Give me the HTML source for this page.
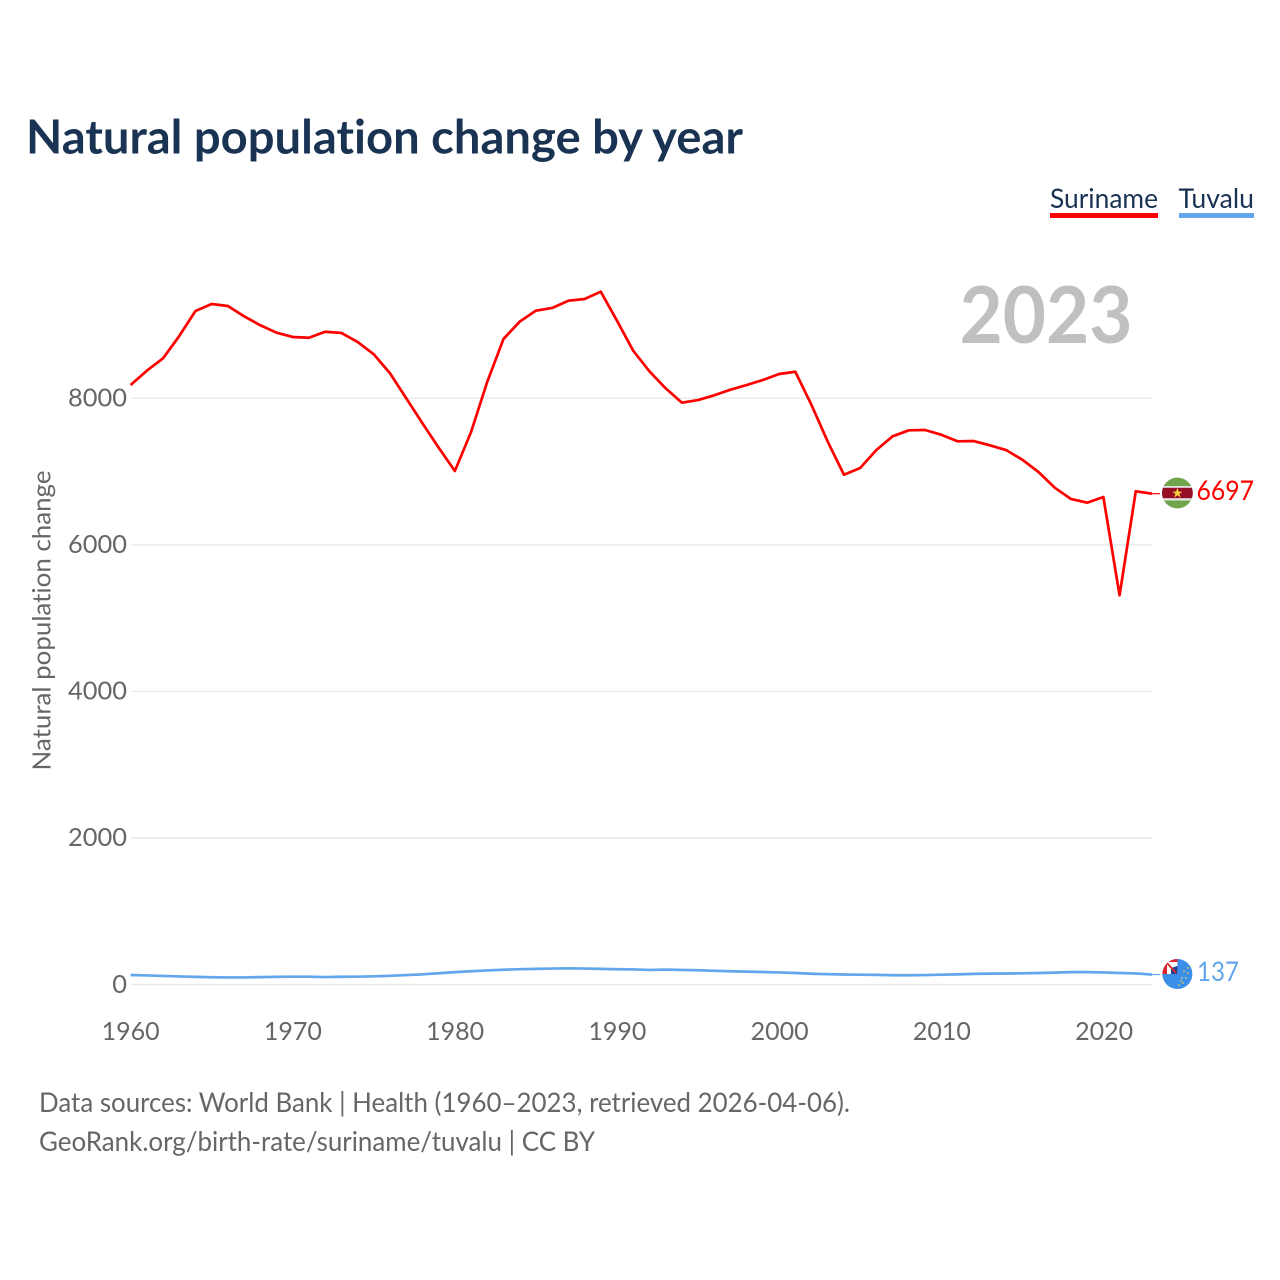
<!DOCTYPE html>
<html lang="en">
<head>
<meta charset="utf-8">
<title>Natural population change by year</title>
<style>
html,body{margin:0;padding:0;background:#fff;}
svg{display:block;}
text{font-family:"Lato","Carlito","Liberation Sans",sans-serif;font-variant-ligatures:none;}
</style>
</head>
<body>
<svg id="chart" xmlns="http://www.w3.org/2000/svg" width="1280" height="1280" viewBox="0 0 1280 1280">
  <rect x="0" y="0" width="1280" height="1280" fill="#ffffff"/>
  <text x="26" y="153.5" font-size="47" font-weight="700" fill="#1a3353" textLength="717" lengthAdjust="spacingAndGlyphs">Natural population change by year</text>

  <g>
    <text x="1050" y="208" font-size="27.5" fill="#1a3353" textLength="108" lengthAdjust="spacingAndGlyphs">Suriname</text>
    <rect x="1050" y="213" width="108" height="5" fill="#ff0000"/>
  </g>
  <g>
    <text x="1178.5" y="208" font-size="27.5" fill="#1a3353" textLength="75.5" lengthAdjust="spacingAndGlyphs">Tuvalu</text>
    <rect x="1179" y="213" width="75" height="5" fill="#63a6ec"/>
  </g>

  <text x="959.5" y="343" font-size="79" font-weight="700" fill="#c0c0c0" textLength="173" lengthAdjust="spacingAndGlyphs">2023</text>

  <g id="grid"></g>
  <g id="yticks"></g>
  <g id="xticks"></g>
  <text transform="translate(50.5 770.5) rotate(-90)" x="0" y="0" font-size="25.5" fill="#666666" textLength="300" lengthAdjust="spacingAndGlyphs">Natural population change</text>
  <g id="series"></g>

  <g id="flag-suriname">
    <clipPath id="clip-sr"><circle cx="1177.4" cy="493" r="15.4"/></clipPath>
    <g clip-path="url(#clip-sr)">
      <rect x="1162" y="477" width="31" height="32" fill="#72a64e"/>
      <rect x="1162" y="486" width="31" height="14.5" fill="#e4e4e4"/>
      <rect x="1162" y="487.8" width="31" height="10.4" fill="#970f25"/>
    </g>
    <polygon points="1177.4,487.8 1178.7,491.6 1182.5,491.6 1179.4,493.9 1180.6,497.6 1177.4,495.3 1174.2,497.6 1175.4,493.9 1172.3,491.6 1176.1,491.6" fill="#f6d23f"/>
  </g>
  <g id="flag-tuvalu">
    <clipPath id="clip-tv"><circle cx="1177.4" cy="974" r="15"/></clipPath>
    <g clip-path="url(#clip-tv)">
      <rect x="1162" y="959" width="31" height="31" fill="#3a8fe9"/>
      <rect x="1162" y="959" width="15.4" height="15" fill="#e0242c"/>
      <polygon points="1167,962 1177.4,962 1177.4,974 1167,974" fill="#ffffff"/>
      <polygon points="1171,968 1177.4,966 1177.4,974 1171,974" fill="#23408f"/>
      <line x1="1167" y1="963" x2="1176" y2="973" stroke="#e0242c" stroke-width="1.8"/>
      <g fill="#e6c85a">
        <circle cx="1184" cy="971" r="0.9"/><circle cx="1188" cy="973" r="0.9"/>
        <circle cx="1188" cy="968" r="0.9"/><circle cx="1186" cy="978" r="0.9"/>
        <circle cx="1181" cy="981" r="0.9"/><circle cx="1179" cy="985" r="0.9"/>
        <circle cx="1182" cy="978" r="0.9"/><circle cx="1183" cy="983" r="0.9"/>
      </g>
    </g>
  </g>

  <text x="1196.5" y="500" font-size="27.5" fill="#ff0000" textLength="57.5" lengthAdjust="spacingAndGlyphs">6697</text>
  <text x="1197" y="981" font-size="27.5" fill="#63a6ec" textLength="42" lengthAdjust="spacingAndGlyphs">137</text>

  <text x="39" y="1112" font-size="27" fill="#666666" textLength="811" lengthAdjust="spacingAndGlyphs">Data sources: World Bank | Health (1960–2023, retrieved 2026-04-06).</text>
  <text x="39" y="1151" font-size="27" fill="#666666" textLength="556" lengthAdjust="spacingAndGlyphs">GeoRank.org/birth-rate/suriname/tuvalu | CC BY</text>
</svg>
<script>
const startYear = 1960;
const surinameValues = [
  8180,8375,8544,8848,9190,9285,9258,9117,8995,8894,
  8835,8825,8907,8890,8767,8599,8340,7999,7658,7325,
  7007,7539,8225,8808,9044,9194,9231,9330,9353,9453,
  9057,8648,8367,8135,7939,7975,8040,8116,8180,8248,
  8330,8361,7907,7407,6956,7048,7293,7480,7562,7566,
  7502,7412,7416,7357,7293,7161,6993,6779,6625,6574,
  6652,5311,6730,6697
];
const tuvaluValues = [
  131,125,118,111,105,100,98,98,102,106,
  108,108,103,107,108,113,120,130,140,155,
  170,182,193,203,210,215,219,222,219,214,
  209,208,200,205,200,196,188,182,177,172,
  166,158,148,142,138,135,133,128,128,130,
  135,140,146,150,151,154,158,163,170,170,
  166,158,152,137
];
const yTickValues = [0, 2000, 4000, 6000, 8000];
const xTickYears = [1960, 1970, 1980, 1990, 2000, 2010, 2020];

const SVGNS = 'http://www.w3.org/2000/svg';
function xScale(year) { return 130.6 + (year - 1960) * (1152 - 130.6) / 63; }
function yScale(value) { return 984.6 - value * 0.0733; }
function make(tag, attrs, parent) {
  const el = document.createElementNS(SVGNS, tag);
  for (const k in attrs) el.setAttribute(k, attrs[k]);
  parent.appendChild(el);
  return el;
}

const grid = document.getElementById('grid');
const yticks = document.getElementById('yticks');
const xticks = document.getElementById('xticks');
const series = document.getElementById('series');

yTickValues.forEach(function (v) {
  const line = make('line', {x1: 131, x2: 1152, y1: yScale(v), y2: yScale(v), stroke: '#e9e9e9', 'stroke-width': 1.4}, grid);
  
  
  const label = make('text', {x: 127, y: yScale(v) + 8.2, 'font-size': 25.5, fill: '#666666', 'text-anchor': 'end', textLength: String(v).length * 14.75, lengthAdjust: 'spacingAndGlyphs'}, yticks);
  
  
  label.textContent = String(v);
});

xTickYears.forEach(function (y) {
  const label = make('text', {x: xScale(y) + (y - 1960) * 0.012, y: 1040, 'font-size': 25.5, fill: '#666666', 'text-anchor': 'middle', textLength: 58, lengthAdjust: 'spacingAndGlyphs'}, xticks);
  
  
  label.textContent = String(y);
});

function pathFor(values) {
  return values.map(function (v, i) {
    return (i ? 'L' : 'M') + xScale(startYear + i).toFixed(2) + ' ' + yScale(v).toFixed(2);
  }).join(' ');
}
function leaderFor(values) {
  const last = values[values.length - 1];
  return 'M' + xScale(startYear + values.length - 1) + ' ' + yScale(last).toFixed(2) + ' L1160 ' + yScale(last).toFixed(2);
}

const tuvaluLine = make('path', {d: pathFor(tuvaluValues), fill: 'none', stroke: '#63a6ec', 'stroke-width': 2.7, 'stroke-linejoin': 'round'}, series);



const tuvaluLeader = make('path', {d: leaderFor(tuvaluValues), fill: 'none', stroke: '#63a6ec', 'stroke-width': 1.2}, series);



const surinameLine = make('path', {d: pathFor(surinameValues), fill: 'none', stroke: '#ff0000', 'stroke-width': 2.7, 'stroke-linejoin': 'round'}, series);



const surinameLeader = make('path', {d: leaderFor(surinameValues), fill: 'none', stroke: '#ff0000', 'stroke-width': 1.2}, series);


</script>
</body>
</html>
